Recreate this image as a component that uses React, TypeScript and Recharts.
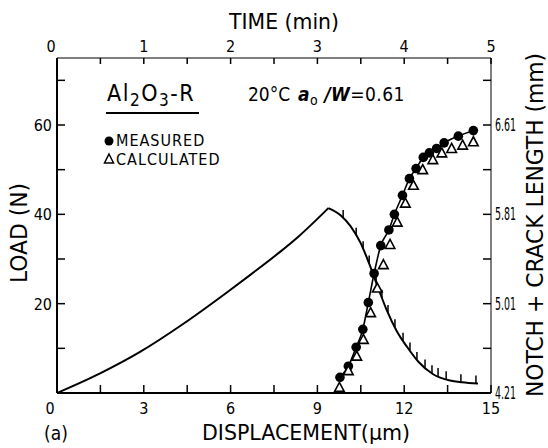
import React from "react";
import { ComposedChart, Line, Scatter, XAxis, YAxis } from "recharts";

const FONT = '"DejaVu Sans Condensed", "Liberation Sans Narrow", "DejaVu Sans", sans-serif';

// load vs displacement (um, N), rising part up to the peak
const loadRiseDisp = [0, 1.49, 2.87, 4.37, 5.87, 6.67, 7.71, 8.34, 9.38];
const loadRiseValues = [0, 4.4, 9.2, 15.5, 22.5, 26.4, 31.6, 35.0, 41.4];
// falling part after the peak
const loadFallDisp = [9.38, 9.8, 10.15, 10.5, 10.8, 11.1, 11.4, 11.74, 12.09, 12.49, 13.0, 13.58, 14.0, 14.55];
const loadFallValues = [41.4, 39.8, 37.3, 33.5, 28.8, 23.5, 18.5, 13.9, 10.4, 7.0, 4.2, 2.8, 2.4, 2.1];

// hatch marks on the falling part of the load curve
const hatchDisp = [9.89, 10.34, 10.58, 10.79, 11.03, 11.23, 11.44, 11.68, 11.96, 12.2, 12.44, 12.72, 12.96, 13.17, 13.45, 13.96, 14.48];
const hatchLoad = [39.2, 35.2, 32.2, 29.0, 24.7, 21.3, 17.9, 14.7, 11.7, 9.5, 7.4, 5.7, 4.4, 3.8, 3.1, 2.4, 2.1];

// notch + crack length (mm)
const measuredDisp = [9.78, 10.07, 10.34, 10.57, 10.76, 10.96, 11.19, 11.47, 11.66, 11.94, 12.18, 12.41, 12.66, 12.87, 13.12, 13.38, 13.87, 14.39];
const measuredCrack = [4.35, 4.45, 4.62, 4.78, 5.02, 5.28, 5.53, 5.67, 5.81, 5.98, 6.13, 6.22, 6.32, 6.36, 6.4, 6.45, 6.51, 6.56];
const calculatedDisp = [9.76, 10.07, 10.36, 10.59, 10.84, 11.07, 11.28, 11.51, 11.76, 12.04, 12.32, 12.64, 12.99, 13.3, 13.64, 14.02, 14.39];
const calculatedCrack = [4.26, 4.41, 4.54, 4.69, 4.93, 5.15, 5.36, 5.54, 5.74, 5.91, 6.07, 6.21, 6.3, 6.36, 6.4, 6.43, 6.46];

// axes
const dispTicks = [0, 1.5, 3, 4.5, 6, 7.5, 9, 10.5, 12, 13.5, 15];
const dispLabels = [0, 3, 6, 9, 12, 15];
const timeTicks = [0, 0.5, 1, 1.5, 2, 2.5, 3, 3.5, 4, 4.5, 5];
const timeLabels = [0, 1, 2, 3, 4, 5];
const loadTicks = [0, 10, 20, 30, 40, 50, 60, 70];
const loadLabels = [20, 40, 60];
const crackTicks = [4.21, 4.61, 5.01, 5.41, 5.81, 6.21, 6.61, 7.01];
const crackLabels = [4.21, 5.01, 5.81, 6.61];

const loadRise = loadRiseDisp.map((x, i) => ({ x, load: loadRiseValues[i] }));
const loadFall = loadFallDisp.map((x, i) => ({ x, load: loadFallValues[i] }));
const hatches = hatchDisp.map((x, i) => ({ x, load: hatchLoad[i] }));
const measured = measuredDisp.map((x, i) => ({ x, crack: measuredCrack[i] }));
const calculated = calculatedDisp.map((x, i) => ({ x, crack: calculatedCrack[i] }));

const has = (list: number[], v: number) => list.some((l) => Math.abs(l - v) < 1e-6);

const BottomTick = ({ x, y, payload }: any) => (
  <g>
    <line x1={x} y1={y} x2={x} y2={y - 8} stroke="#000" strokeWidth={1.5} />
    {has(dispLabels, payload.value) && (
      <text x={payload.value === 0 ? x - 7 : x} y={y + 21} textAnchor="middle" fontSize={16} fontFamily={FONT} fill="#000">
        {payload.value}
      </text>
    )}
  </g>
);

const TopTick = ({ x, y, payload }: any) => (
  <g>
    <line x1={x} y1={y} x2={x} y2={y + 6} stroke="#000" strokeWidth={1.5} />
    {has(timeLabels, payload.value) && (
      <text x={payload.value === 0 ? x - 6 : x} y={y - 6} textAnchor="middle" fontSize={16} fontFamily={FONT} fill="#000">
        {payload.value}
      </text>
    )}
  </g>
);

const LeftTick = ({ x, y, payload }: any) => (
  <g>
    <line x1={x} y1={y} x2={x + 8} y2={y} stroke="#000" strokeWidth={1.5} />
    {has(loadLabels, payload.value) && (
      <text x={x - 5} y={y + 6} textAnchor="end" fontSize={16} fontFamily={FONT} fill="#000">
        {payload.value}
      </text>
    )}
  </g>
);

const RightTick = ({ x, y, payload }: any) => (
  <g>
    <line x1={x} y1={y} x2={x - 8} y2={y} stroke="#000" strokeWidth={1.5} />
    {has(crackLabels, payload.value) && (
      <text
        x={x + 4}
        y={y + 6}
        textAnchor="start"
        fontSize={17}
        fontFamily={FONT}
        fill="#000"
        textLength={21}
        lengthAdjust="spacingAndGlyphs"
      >
        {payload.value.toFixed(2)}
      </text>
    )}
  </g>
);

const Hatch = ({ cx, cy }: any) => (
  <line x1={cx} y1={cy} x2={cx} y2={cy - 8} stroke="#000" strokeWidth={1.5} />
);

const Dot = ({ cx, cy }: any) => <circle cx={cx} cy={cy} r={4.8} fill="#000" />;

const Triangle = ({ cx, cy }: any) => (
  <path
    d={`M${cx},${cy - 5} L${cx + 4.8},${cy + 4} L${cx - 4.8},${cy + 4} Z`}
    fill="#fff"
    stroke="#000"
    strokeWidth={1.6}
  />
);

export default function App() {
  return (
    <div style={{ position: "absolute", left: 0, top: 0, width: 548, height: 448, background: "#fff" }}>
      <ComposedChart width={548} height={448} margin={{ top: 0, right: 0, bottom: 0, left: 0 }}>
        <XAxis
          xAxisId="disp"
          dataKey="x"
          type="number"
          orientation="bottom"
          domain={[0, 15]}
          ticks={dispTicks}
          interval={0}
          allowDataOverflow
          height={55}
          tickSize={0}
          tickMargin={0}
          tickLine={false}
          axisLine={{ stroke: "#000", strokeWidth: 2 }}
          tick={<BottomTick />}
        />
        <XAxis
          xAxisId="time"
          dataKey="t"
          type="number"
          orientation="top"
          domain={[0, 5]}
          ticks={timeTicks}
          interval={0}
          allowDataOverflow
          height={58}
          tickSize={0}
          tickMargin={0}
          tickLine={false}
          axisLine={{ stroke: "#000", strokeWidth: 1 }}
          tick={<TopTick />}
        />
        <YAxis
          yAxisId="load"
          dataKey="load"
          type="number"
          orientation="left"
          domain={[0, 75]}
          ticks={loadTicks}
          interval={0}
          allowDataOverflow
          width={57}
          tickSize={0}
          tickMargin={0}
          tickLine={false}
          axisLine={{ stroke: "#000", strokeWidth: 2 }}
          tick={<LeftTick />}
        />
        <YAxis
          yAxisId="crack"
          dataKey="crack"
          type="number"
          orientation="right"
          domain={[4.21, 7.21]}
          ticks={crackTicks}
          interval={0}
          allowDataOverflow
          width={57}
          tickSize={0}
          tickMargin={0}
          tickLine={false}
          axisLine={{ stroke: "#000", strokeWidth: 1 }}
          tick={<RightTick />}
        />
        <Line
          data={loadRise}
          xAxisId="disp"
          yAxisId="load"
          dataKey="load"
          type="monotone"
          stroke="#000"
          strokeWidth={2}
          dot={false}
          isAnimationActive={false}
        />
        <Line
          data={loadFall}
          xAxisId="disp"
          yAxisId="load"
          dataKey="load"
          type="monotone"
          stroke="#000"
          strokeWidth={2}
          dot={false}
          isAnimationActive={false}
        />
        <Scatter
          data={hatches}
          xAxisId="disp"
          yAxisId="load"
          dataKey="load"
          shape={<Hatch />}
          isAnimationActive={false}
        />
        <Line
          data={measured}
          xAxisId="disp"
          yAxisId="crack"
          dataKey="crack"
          type="monotone"
          stroke="#000"
          strokeWidth={1.6}
          dot={<Dot />}
          isAnimationActive={false}
        />
        <Scatter
          data={calculated}
          xAxisId="disp"
          yAxisId="crack"
          dataKey="crack"
          shape={<Triangle />}
          isAnimationActive={false}
        />
      </ComposedChart>

      <svg
        width={548}
        height={448}
        style={{ position: "absolute", left: 0, top: 0, pointerEvents: "none" }}
        fontFamily={FONT}
        fill="#000"
      >
        <text x={284} y={29} textAnchor="middle" fontSize={21} textLength={110} lengthAdjust="spacingAndGlyphs">
          TIME (min)
        </text>
        <text x={306} y={440} textAnchor="middle" fontSize={21} textLength={208} lengthAdjust="spacingAndGlyphs">
          DISPLACEMENT(μm)
        </text>
        <text x={44} y={440} fontSize={19}>(a)</text>
        <text
          x={27}
          y={233}
          textAnchor="middle"
          fontSize={23}
          textLength={100}
          lengthAdjust="spacingAndGlyphs"
          transform="rotate(-90 27 233)"
        >
          LOAD (N)
        </text>
        <text
          x={543}
          y={225}
          textAnchor="middle"
          fontSize={23}
          textLength={344}
          lengthAdjust="spacingAndGlyphs"
          transform="rotate(-90 543 225)"
        >
          NOTCH + CRACK LENGTH (mm)
        </text>

        <text x={107} y={101} fontSize={23} letterSpacing={1.5}>
          Al<tspan dy={5} fontSize={17}>2</tspan>
          <tspan dy={-5}>O</tspan>
          <tspan dy={5} fontSize={17}>3</tspan>
          <tspan dy={-5}>-R</tspan>
        </text>
        <line x1={106} y1={113} x2={199} y2={113} stroke="#000" strokeWidth={2} />
        <text x={248} y={101} fontSize={19}>20°C</text>
        <text x={298} y={101} fontSize={19} letterSpacing={0.4}>
          <tspan fontStyle="italic" fontWeight="bold">a</tspan>
          <tspan dy={4} fontSize={14}>o</tspan>
          <tspan dy={-4} fontStyle="italic" fontWeight="bold"> /W</tspan>
          <tspan>=0.61</tspan>
        </text>

        <circle cx={109} cy={141} r={4.5} fill="#000" />
        <text x={116} y={146} fontSize={16} letterSpacing={1}>MEASURED</text>
        <path d="M109,154 L113.5,163 L104.5,163 Z" fill="#fff" stroke="#000" strokeWidth={1.5} />
        <text x={116} y={165} fontSize={16} letterSpacing={1}>CALCULATED</text>
      </svg>
    </div>
  );
}
